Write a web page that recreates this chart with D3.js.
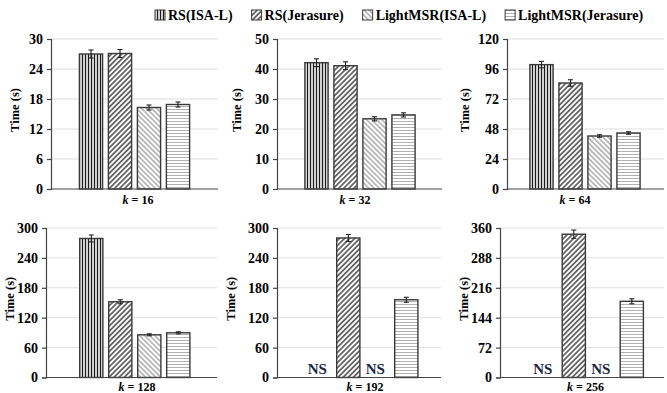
<!DOCTYPE html>
<html><head><meta charset="utf-8">
<script src="https://cdn.jsdelivr.net/npm/d3@7"></script>
<style>
html,body{margin:0;padding:0;background:#fff;}
svg{display:block;font-family:"Liberation Serif","Times New Roman",serif;}
</style></head>
<body><svg id="c" width="667" height="393"></svg>
<script>
// ---- data ----
const kValues = [16, 32, 64, 128, 192, 256];
const series = ["RS(ISA-L)", "RS(Jerasure)", "LightMSR(ISA-L)", "LightMSR(Jerasure)"];
const rsIsal   = [27.0, 42.1, 99.5, 279, null, null];
const rsJer    = [27.1, 41.1, 84.8, 152, 280, 345];
const lmIsal   = [16.3, 23.4, 42.4, 85.7, null, null];
const lmJer    = [16.9, 24.7, 44.8, 89.7, 156, 183.5];
const rsIsalErr = [0.8, 1.3, 2.6, 7, null, null];
const rsJerErr  = [0.8, 1.3, 2.6, 4, 7, 10];
const lmIsalErr = [0.5, 0.7, 1.0, 2, null, null];
const lmJerErr  = [0.5, 0.7, 1.0, 2, 5, 6];
const yMax  = [30, 50, 120, 300, 300, 360];
const yStep = [6, 10, 24, 60, 60, 72];
const missingLabel = "NS";

// ---- layout (positions only) ----
const FONT = "Liberation Serif";
const rows = [{top: 39, bottom: 189, labelY: 204}, {top: 228, bottom: 377.5, labelY: 391}];
const panels = [
  {row: 0, axisX: 51,  right: 218, cx: 134.5, titleX: 15,  labelX: 138},
  {row: 0, axisX: 277, right: 442, cx: 360,   titleX: 237, labelX: 355},
  {row: 0, axisX: 507, right: 664, cx: 585,   titleX: 465, labelX: 575},
  {row: 1, axisX: 46,  right: 217, cx: 134.8, titleX: 10,  labelX: 137},
  {row: 1, axisX: 277, right: 441, cx: 362.8, titleX: 231, labelX: 365},
  {row: 1, axisX: 500, right: 664, cx: 588.3, titleX: 464, labelX: 585.5}
];
const groupHalf = 58;

const svg = d3.select("#c");
const defs = svg.append("defs");
const edge = "#3a3a3a";

function pat(id, size, angle, color, sw) {
  const p = defs.append("pattern").attr("id", id).attr("patternUnits", "userSpaceOnUse")
    .attr("width", size).attr("height", size).attr("patternTransform", `rotate(${angle})`);
  p.append("rect").attr("width", size).attr("height", size).attr("fill", "#fff");
  p.append("line").attr("x1", size / 2).attr("x2", size / 2).attr("y1", 0).attr("y2", size)
    .attr("stroke", color).attr("stroke-width", sw);
}
pat("p0", 3, 0, "#1a1a1a", 1.4);
pat("p1", 3.6, 45, "#2a2a2a", 1.3);
pat("p2", 3.6, -45, "#8a8a8a", 1.1);
pat("p3", 3, 90, "#b0b0b0", 1.0);
const fills = ["url(#p0)", "url(#p1)", "url(#p2)", "url(#p3)"];

const allVals = [rsIsal, rsJer, lmIsal, lmJer];
const allErr = [rsIsalErr, rsJerErr, lmIsalErr, lmJerErr];

panels.forEach((P, i) => {
  const R = rows[P.row];
  const g = svg.append("g");
  const y = d3.scaleLinear().domain([0, yMax[i]]).range([R.bottom, R.top]);
  const x = d3.scaleBand().domain(series).range([P.cx - groupHalf, P.cx + groupHalf])
    .paddingInner(0.2).paddingOuter(0.1);
  const ticks = d3.range(0, yMax[i] + 1e-9, yStep[i]);

  g.selectAll(".grid").data(ticks.filter(t => t > 0)).enter().append("line")
    .attr("x1", P.axisX).attr("x2", P.right)
    .attr("y1", d => y(d)).attr("y2", d => y(d))
    .attr("stroke", "#dedede").attr("stroke-width", 1);

  const data = series.map((s, j) => ({s, v: allVals[j][i], e: allErr[j][i], j}));

  g.selectAll(".bar").data(data.filter(d => d.v != null)).enter().append("rect")
    .attr("x", d => x(d.s)).attr("width", x.bandwidth())
    .attr("y", d => y(d.v)).attr("height", d => y(0) - y(d.v))
    .attr("fill", d => fills[d.j]).attr("stroke", edge).attr("stroke-width", 1.4);

  const eb = g.selectAll(".eb").data(data.filter(d => d.v != null)).enter().append("g")
    .attr("stroke", "#222").attr("stroke-width", 1.1);
  const xc = d => x(d.s) + x.bandwidth() / 2;
  eb.append("line").attr("x1", xc).attr("x2", xc)
    .attr("y1", d => y(d.v + d.e)).attr("y2", d => y(d.v - d.e));
  eb.append("line").attr("x1", d => xc(d) - 2.5).attr("x2", d => xc(d) + 2.5)
    .attr("y1", d => y(d.v + d.e)).attr("y2", d => y(d.v + d.e));
  eb.append("line").attr("x1", d => xc(d) - 2.5).attr("x2", d => xc(d) + 2.5)
    .attr("y1", d => y(d.v - d.e)).attr("y2", d => y(d.v - d.e));

  g.selectAll(".ns").data(data.filter(d => d.v == null)).enter().append("text")
    .attr("x", d => xc(d) - 2).attr("y", R.bottom - 4)
    .attr("text-anchor", "middle").attr("font-family", FONT).attr("font-weight", "bold").attr("font-size", 15)
    .attr("fill", "#1a2540").text(missingLabel);

  const ya = g.append("g").attr("transform", `translate(${P.axisX},0)`)
    .call(d3.axisLeft(y).tickValues(ticks).tickSize(4).tickPadding(4).tickFormat(d3.format("d")));
  ya.attr("font-family", FONT).attr("font-size", 14);
  ya.select(".domain").attr("stroke", "#444").attr("stroke-width", 1.2);
  ya.selectAll(".tick line").attr("stroke", "#444").attr("stroke-width", 1.2);
  ya.selectAll("text").attr("font-family", FONT).attr("font-weight", "bold")
    .attr("font-size", 14).attr("fill", "#000");

  g.append("line").attr("x1", P.axisX).attr("x2", P.right)
    .attr("y1", y(0)).attr("y2", y(0)).attr("stroke", "#444").attr("stroke-width", 1.2);

  const ty = (R.top + R.bottom) / 2 - 4;
  g.append("text").attr("transform", `translate(${P.titleX + 4},${ty}) rotate(-90)`)
    .attr("text-anchor", "middle").attr("font-family", FONT).attr("font-weight", "bold").attr("font-size", 12.5)
    .attr("fill", "#000").text("Time (s)");

  const xl = g.append("text").attr("x", P.labelX).attr("y", R.labelY)
    .attr("text-anchor", "middle").attr("font-family", FONT).attr("font-weight", "bold").attr("font-size", 12).attr("fill", "#000");
  xl.append("tspan").attr("font-style", "italic").text("k");
  xl.append("tspan").text(" = " + kValues[i]);
});

const lg = svg.append("g");
let lx = 155;
series.forEach((s, j) => {
  lg.append("rect").attr("x", lx).attr("y", 10).attr("width", 10).attr("height", 10)
    .attr("fill", fills[j]).attr("stroke", edge).attr("stroke-width", 1);
  const t = lg.append("text").attr("x", lx + 13).attr("y", 20).attr("font-family", FONT)
    .attr("font-weight", "bold").attr("font-size", 14).attr("fill", "#000").text(s);
  const w = t.node().getComputedTextLength();
  lx += 13 + w + 19;
});
</script></body></html>
